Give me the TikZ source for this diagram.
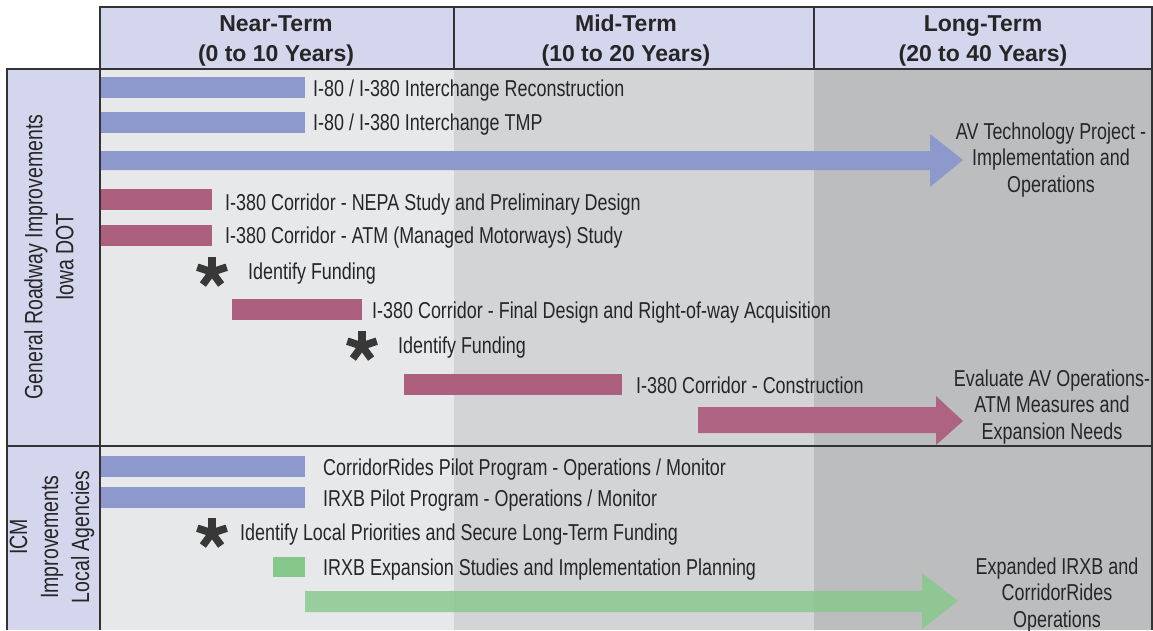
\documentclass[tikz,border=0pt]{standalone}
\usepackage{fontspec}
\setmainfont{Liberation Sans}
\newfontfamily\narrowfont{Liberation Sans}[FakeStretch=0.78]
\usetikzlibrary{positioning}
\definecolor{hdrfill}{HTML}{D4D6EE}
\definecolor{nearbg}{HTML}{E7E8EA}
\definecolor{midbg}{HTML}{D3D4D6}
\definecolor{longbg}{HTML}{BCBDBF}
\definecolor{barblue}{HTML}{8D98CC}
\definecolor{barred}{HTML}{AD5F7E}
\definecolor{bargreen}{HTML}{86C78A}
\definecolor{gridline}{HTML}{333333}
\definecolor{inktext}{HTML}{262626}

\begin{document}
\begin{tikzpicture}[x=1pt,y=-1pt,
hdr/.style={align=center, inner sep=0pt, text=inktext, font=\bfseries\fontsize{23}{30}\selectfont},
task/.style={anchor=base west, inner sep=0pt, text=inktext, font=\narrowfont\fontsize{23}{26}\selectfont},
goal/.style={align=center, inner sep=0pt, text=inktext, font=\narrowfont\fontsize{23}{26.5}\selectfont},
side/.style={align=center, inner sep=0pt, rotate=90, text=inktext, font=\narrowfont\fontsize{25}{31}\selectfont},
starline/.style={line width=7.5pt, draw=black!78},
grid/.style={draw=gridline, line width=2pt}]
\useasboundingbox (0,0) rectangle (1153,630);
% shaded periods
\fill[nearbg] (100,69) rectangle (454,630);
\fill[midbg] (454,69) rectangle (814,630);
\fill[longbg] (814,69) rectangle (1152,630);
\fill[hdrfill] (7,69) rectangle (100,630);
\fill[hdrfill] (100,7) rectangle (1152,69);
\begin{scope}[grid]
 \draw (100,7) rectangle (1152,69);
 \draw (454,7)--(454,69);
 \draw (814,7)--(814,69);
 \draw (7,630)--(7,69)--(1152,69)--(1152,630);
 \draw (100,69)--(100,630);
 \draw (7,446)--(1152,446);
\end{scope}
\node[hdr] (near) at (276,40.5) {Near-Term\\(0 to 10 Years)};
\node[hdr] (mid) at (626,40.5) {Mid-Term\\(10 to 20 Years)};
\node[hdr] (long) at (983,40.5) {Long-Term\\(20 to 40 Years)};
\node[side] (road) at (49,257) {General Roadway Improvements\\Iowa DOT};
\node[side] (icm) at (52,537) {ICM\\Improvements\\Local Agencies};
% bars
\fill[barblue] (101,77) rectangle (305,98);
\fill[barblue] (101,112) rectangle (305,133);
\fill[barblue] (101,151)--(930,151)--(930,134)--(963,160)--(930,187)--(930,170)--(101,170)--cycle;
\fill[barred] (101,189) rectangle (212,210);
\fill[barred] (101,225) rectangle (212,246);
\fill[barred] (232,299) rectangle (362,320);
\fill[barred] (404,374) rectangle (622,395);
\fill[barred, fill opacity=.95] (698,407)--(936,407)--(936,396)--(963,421)--(936,445)--(936,433)--(698,433)--cycle;
\fill[barblue] (101,456) rectangle (305,477);
\fill[barblue] (101,487) rectangle (305,508);
\fill[bargreen] (273,557) rectangle (305,577);
\fill[bargreen, fill opacity=.8] (305,591)--(922,591)--(922,573)--(958,601)--(922,629)--(922,612)--(305,612)--cycle;
% funding stars
\coordinate (fund1) at (212,272);
\coordinate (fund2) at (362,346);
\coordinate (fund3) at (212,533);
\foreach \c in {fund1,fund2,fund3}
 \foreach \a in {270,198,342,126,54}
  \draw[starline] (\c)--++(\a:15.5);
\node[task] (recon) at (313,96) {I-80 / I-380 Interchange Reconstruction};
\node[task] (tmp) at (313,130) {I-80 / I-380 Interchange TMP};
\node[task] (nepa) at (225,210) {I-380 Corridor - NEPA Study and Preliminary Design};
\node[task] (atm) at (225,243) {I-380 Corridor - ATM (Managed Motorways) Study};
\node[task] (fundtxt1) at (248,279) {Identify Funding};
\node[task] (final) at (372,318) {I-380 Corridor - Final Design and Right-of-way Acquisition};
\node[task] (fundtxt2) at (398,353) {Identify Funding};
\node[task] (build) at (636,393) {I-380 Corridor - Construction};
\node[task] (rides) at (323,475) {CorridorRides Pilot Program - Operations / Monitor};
\node[task] (irxb) at (323,506) {IRXB Pilot Program - Operations / Monitor};
\node[task] (fundtxt3) at (240,540) {Identify Local Priorities and Secure Long-Term Funding};
\node[task] (expand) at (323,575) {IRXB Expansion Studies and Implementation Planning};
\node[goal] (avtech) at (1051,160) {AV Technology Project -\\Implementation and\\Operations};
\node[goal] (evalav) at (1052,407) {Evaluate AV Operations-\\ATM Measures and\\Expansion Needs};
\node[goal] (irxbops) at (1057,595) {Expanded IRXB and\\CorridorRides\\Operations};
\end{tikzpicture}
\end{document}
